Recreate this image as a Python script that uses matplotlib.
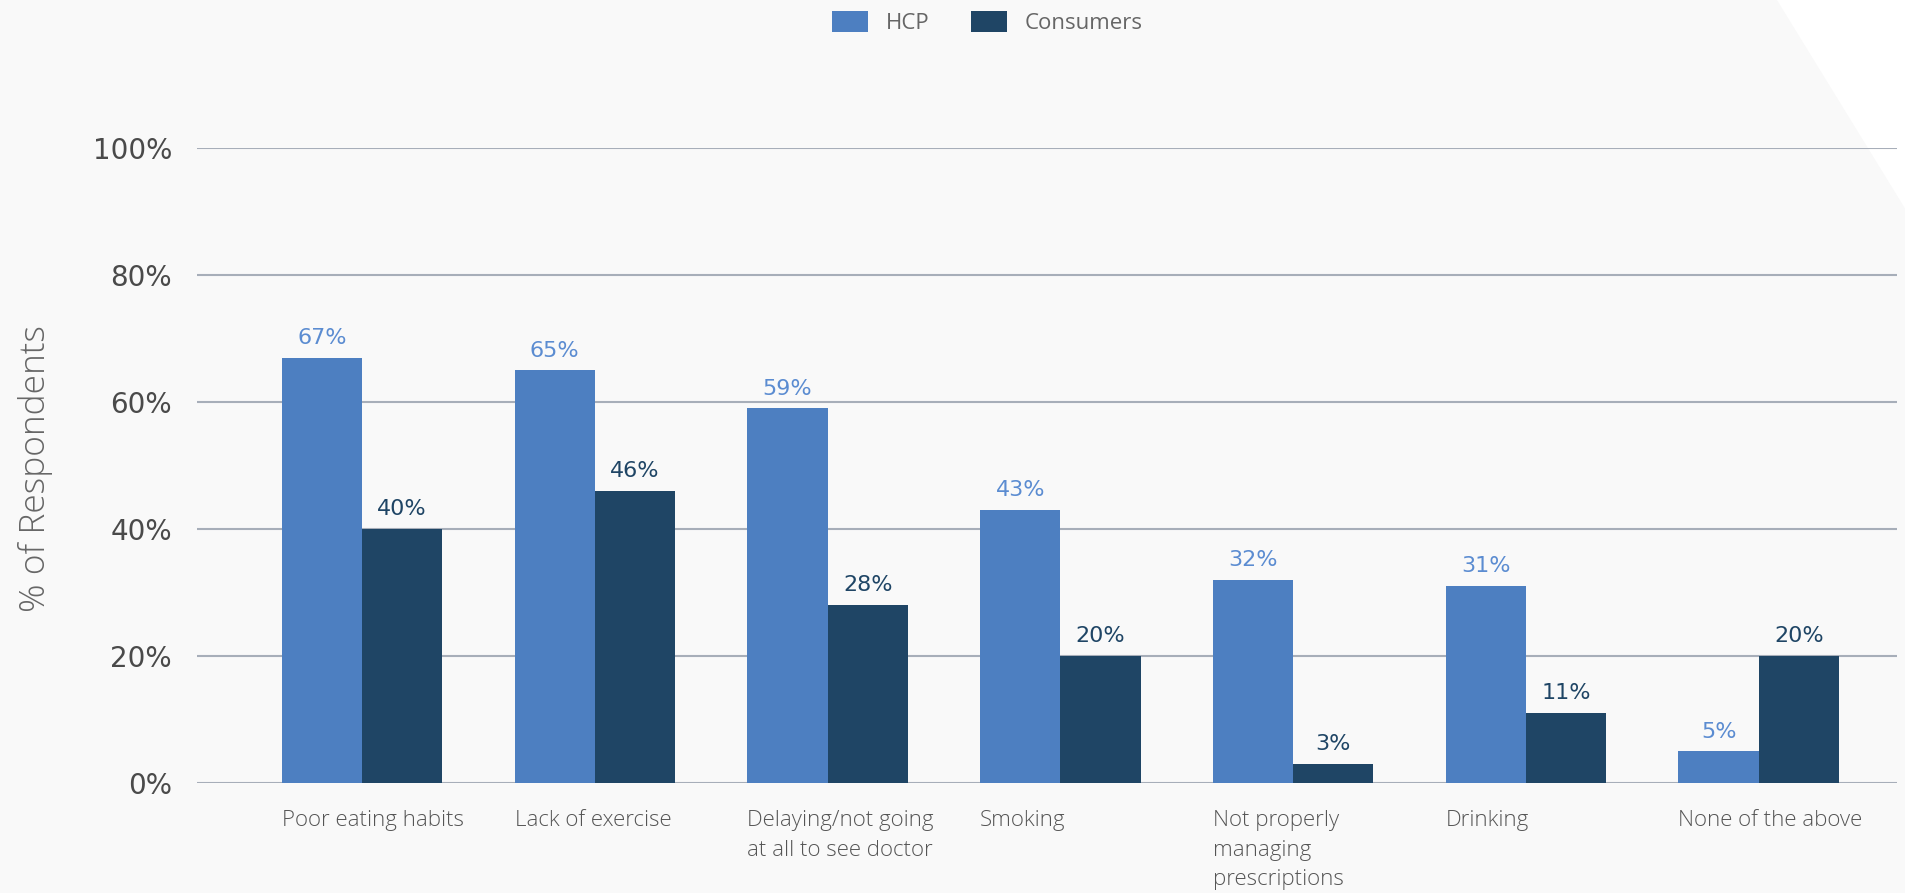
import numpy as np
import matplotlib.pyplot as plt
from matplotlib.patches import Polygon

categories = ["Poor eating habits", "Lack of exercise", "Delaying/not going\nat all to see doctor",
              "Smoking", "Not properly\nmanaging\nprescriptions", "Drinking", "None of the above"]
hcp = [67, 65, 59, 43, 32, 31, 5]
consumers = [40, 46, 28, 20, 3, 11, 20]
series_names = ["HCP", "Consumers"]
y_ticks = [0, 20, 40, 60, 80, 100]

HCP_COLOR = "#4d7fc1"
CON_COLOR = "#1f4565"
HCP_TEXT = "#5b8cd1"
GRID = "#a7aeb9"

def main():
    fig = plt.figure(figsize=(19.06, 8.93), dpi=100, facecolor="#f9f9f9")

    # pale backdrop shapes
    fig.patches.append(Polygon([[1777 / 1906, 1], [1, 1], [1, 1 - 210 / 893]], closed=True,
                               transform=fig.transFigure, facecolor="white", edgecolor="none", zorder=0))

    ax = fig.add_axes([197 / 1906, 1 - 783 / 893, (1897 - 197) / 1906, (783 - 148) / 893])
    ax.set_facecolor("none")
    ax.set_zorder(2)

    x = np.arange(len(categories))
    w = 0.345
    b1 = ax.bar(x - w / 2, hcp, w, color=HCP_COLOR, label=series_names[0], zorder=3)
    b2 = ax.bar(x + w / 2, consumers, w, color=CON_COLOR, label=series_names[1], zorder=3)

    for bars, vals, col in [(b1, hcp, HCP_TEXT), (b2, consumers, CON_COLOR)]:
        for r, v in zip(bars, vals):
            ax.annotate(f"{v}%", (r.get_x() + r.get_width() / 2, v), xytext=(0, 7),
                        textcoords="offset points", ha="center", va="bottom",
                        fontsize=16, color=col, family="DejaVu Sans")

    ax.set_xlim(-0.709, 6.594)
    ax.set_ylim(0, 100)
    ax.set_yticks(y_ticks)
    ax.set_yticklabels([f"{t}%" for t in y_ticks], fontsize=20, color="#4a4a4a", family="DejaVu Sans")
    ax.tick_params(axis="y", length=0, pad=18)
    ax.yaxis.grid(True, color=GRID, linewidth=1.5, zorder=0)
    ax.set_axisbelow(True)

    ax.set_xticks([])
    for xi, lab in zip(x, categories):
        ax.text(xi - w, -4.3, lab, ha="left", va="top", fontsize=16, color="#555555",
                family="Open Sans", fontweight="light", linespacing=1.52,
                transform=ax.transData)

    for s in ax.spines.values():
        s.set_visible(False)

    fig.text(36 / 1906, 1 - 468 / 893, "% of Respondents", rotation=90, ha="center", va="center",
             fontsize=25.5, color="#666666", family="Open Sans", fontweight="light")

    leg = fig.legend(loc="upper center", bbox_to_anchor=(0.518, 1.01), ncol=2, frameon=False,
                     handlelength=1.6, handleheight=1.1, columnspacing=1.9,
                     handletextpad=0.8, prop={"family": "Open Sans", "size": 16})
    for t in leg.get_texts():
        t.set_color("#666666")

    fig.savefig("out.png", dpi=100, facecolor=fig.get_facecolor())

if __name__ == "__main__":
    main()
